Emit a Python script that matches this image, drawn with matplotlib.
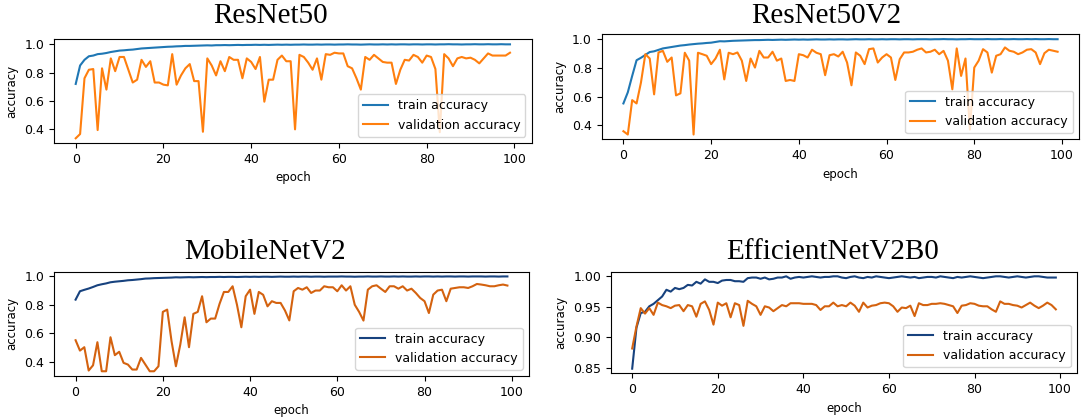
import matplotlib
matplotlib.use('Agg')
import matplotlib.pyplot as plt

# epochs 0..99
epochs = list(range(100))

# ResNet50
r50_train = [0.72, 0.85, 0.89, 0.915, 0.92, 0.93, 0.933, 0.938, 0.945, 0.95,
             0.955, 0.957, 0.96, 0.962, 0.966, 0.97, 0.972, 0.974, 0.976, 0.978,
             0.98, 0.982, 0.983, 0.985, 0.986, 0.988, 0.988, 0.989, 0.99, 0.991,
             0.992, 0.991, 0.993, 0.993, 0.994, 0.993, 0.994, 0.995, 0.994, 0.995,
             0.995, 0.996, 0.995, 0.996, 0.995, 0.996, 0.997, 0.996, 0.997, 0.996,
             0.997, 0.997, 0.998, 0.997, 0.997, 0.998, 0.997, 0.998, 0.998, 0.997,
             0.998, 0.998, 0.999, 0.998, 0.998, 0.997, 0.998, 0.999, 0.998, 0.998,
             0.999, 0.998, 0.999, 0.998, 0.999, 0.999, 0.998, 0.999, 0.999, 0.998,
             0.999, 0.999, 0.998, 0.999, 0.999, 1.0, 0.999, 0.999, 0.998, 0.999,
             0.999, 1.0, 0.999, 0.999, 1.0, 0.999, 0.999, 1.0, 0.999, 0.999]
r50_val = [0.337, 0.367, 0.76, 0.82, 0.825, 0.395, 0.83, 0.68, 0.90, 0.81,
           0.91, 0.91, 0.82, 0.73, 0.75, 0.89, 0.84, 0.88, 0.73, 0.73,
           0.715, 0.71, 0.93, 0.715, 0.78, 0.83, 0.86, 0.74, 0.74, 0.383,
           0.90, 0.85, 0.78, 0.88, 0.81, 0.91, 0.89, 0.89, 0.76, 0.90,
           0.875, 0.825, 0.91, 0.595, 0.75, 0.75, 0.89, 0.92, 0.88, 0.88,
           0.40, 0.925, 0.91, 0.87, 0.82, 0.90, 0.75, 0.93, 0.925, 0.94,
           0.935, 0.935, 0.845, 0.83, 0.76, 0.68, 0.91, 0.89, 0.925, 0.90,
           0.875, 0.87, 0.87, 0.72, 0.82, 0.89, 0.885, 0.925, 0.91, 0.87,
           0.92, 0.91, 0.825, 0.38, 0.93, 0.90, 0.845, 0.90, 0.91, 0.90,
           0.905, 0.89, 0.865, 0.90, 0.935, 0.92, 0.92, 0.92, 0.92, 0.94]

# ResNet50V2
r50v2_train = [0.553, 0.63, 0.744, 0.853, 0.87, 0.89, 0.91, 0.915, 0.925, 0.935,
               0.94, 0.945, 0.95, 0.955, 0.958, 0.962, 0.965, 0.968, 0.97, 0.973,
               0.975, 0.98, 0.985, 0.984, 0.986, 0.988, 0.989, 0.99, 0.991, 0.992,
               0.993, 0.993, 0.994, 0.995, 0.994, 0.995, 0.996, 0.995, 0.996, 0.997,
               0.996, 0.997, 0.996, 0.997, 0.998, 0.997, 0.997, 0.998, 0.997, 0.998,
               0.998, 0.997, 0.998, 0.999, 0.998, 0.998, 0.999, 0.998, 0.998, 0.999,
               0.998, 0.999, 0.999, 0.998, 0.999, 0.999, 0.998, 0.999, 0.999, 0.999,
               0.998, 0.999, 0.999, 1.0, 0.999, 0.999, 0.998, 0.999, 0.999, 1.0,
               0.999, 0.999, 0.999, 1.0, 0.999, 0.999, 1.0, 0.999, 0.999, 1.0,
               0.999, 0.999, 1.0, 0.999, 1.0, 0.999, 0.999, 1.0, 0.999, 0.999]
r50v2_val = [0.36, 0.337, 0.576, 0.553, 0.698, 0.895, 0.865, 0.616, 0.907, 0.918,
             0.842, 0.872, 0.609, 0.623, 0.905, 0.85, 0.337, 0.905, 0.895, 0.884,
             0.826, 0.865, 0.926, 0.72, 0.905, 0.895, 0.907, 0.85, 0.709, 0.865,
             0.802, 0.918, 0.872, 0.872, 0.912, 0.85, 0.865, 0.709, 0.716, 0.709,
             0.895, 0.888, 0.872, 0.926, 0.905, 0.895, 0.749, 0.888, 0.895, 0.879,
             0.912, 0.837, 0.679, 0.907, 0.884, 0.826, 0.93, 0.935, 0.837, 0.872,
             0.895, 0.872, 0.716, 0.86, 0.907, 0.907, 0.912, 0.926, 0.935, 0.907,
             0.912, 0.926, 0.895, 0.918, 0.85, 0.651, 0.935, 0.744, 0.865, 0.372,
             0.802, 0.85, 0.93, 0.907, 0.767, 0.884, 0.895, 0.942, 0.919, 0.912,
             0.895, 0.907, 0.926, 0.93, 0.907, 0.826, 0.902, 0.926, 0.919, 0.912]

# MobileNetV2
mnv2_train = [0.836, 0.895, 0.905, 0.914, 0.925, 0.937, 0.944, 0.95, 0.958, 0.962,
              0.965, 0.968, 0.972, 0.974, 0.977, 0.98, 0.984, 0.985, 0.987, 0.988,
              0.989, 0.99, 0.991, 0.993, 0.992, 0.993, 0.994, 0.993, 0.994, 0.995,
              0.994, 0.995, 0.995, 0.996, 0.995, 0.996, 0.996, 0.995, 0.996, 0.997,
              0.996, 0.997, 0.996, 0.997, 0.997, 0.996, 0.997, 0.998, 0.997, 0.997,
              0.998, 0.997, 0.998, 0.998, 0.997, 0.998, 0.998, 0.997, 0.998, 0.998,
              0.998, 0.999, 0.998, 0.998, 0.997, 0.998, 0.998, 0.999, 0.998, 0.998,
              0.999, 0.998, 0.998, 0.999, 0.998, 0.999, 0.998, 0.998, 0.999, 0.998,
              0.999, 0.999, 0.998, 0.999, 0.998, 0.999, 0.999, 0.998, 0.999, 0.999,
              0.998, 0.999, 0.999, 0.999, 0.998, 0.999, 0.999, 0.998, 0.999, 0.999]
mnv2_val = [0.551, 0.478, 0.502, 0.338, 0.375, 0.537, 0.333, 0.333, 0.572, 0.446,
            0.47, 0.392, 0.38, 0.345, 0.345, 0.427, 0.38, 0.333, 0.333, 0.368,
            0.75, 0.766, 0.544, 0.368, 0.52, 0.712, 0.502, 0.736, 0.75, 0.86,
            0.677, 0.703, 0.703, 0.806, 0.89, 0.89, 0.93, 0.80, 0.642, 0.86,
            0.906, 0.736, 0.89, 0.87, 0.789, 0.825, 0.813, 0.813, 0.76, 0.69,
            0.895, 0.918, 0.906, 0.923, 0.883, 0.90, 0.90, 0.93, 0.923, 0.923,
            0.895, 0.937, 0.90, 0.93, 0.80, 0.75, 0.689, 0.906, 0.93, 0.937,
            0.913, 0.89, 0.93, 0.93, 0.913, 0.93, 0.90, 0.913, 0.883, 0.848,
            0.825, 0.742, 0.871, 0.90, 0.906, 0.825, 0.913, 0.918, 0.923, 0.923,
            0.918, 0.93, 0.946, 0.942, 0.937, 0.93, 0.93, 0.937, 0.942, 0.935]

# EfficientNetV2B0
effb0_train = [0.849, 0.916, 0.94, 0.942, 0.951, 0.955, 0.961, 0.967, 0.978, 0.975,
               0.981, 0.979, 0.981, 0.986, 0.985, 0.991, 0.988, 0.995, 0.991, 0.991,
               0.989, 0.993, 0.994, 0.994, 0.992, 0.992, 0.991, 0.997, 0.998, 0.998,
               0.996, 0.998, 0.995, 0.996, 0.998, 0.998, 1.0, 0.996, 0.998, 0.999,
               0.998, 0.999, 1.0, 0.999, 0.998, 0.999, 0.999, 1.0, 1.0, 0.998,
               0.997, 0.999, 1.0, 0.998, 0.997, 0.999, 0.998, 1.0, 0.999, 0.998,
               0.997, 0.998, 0.999, 1.0, 0.999, 0.998, 0.999, 0.997, 0.998, 0.999,
               0.999, 0.998, 1.0, 0.999, 0.998, 0.997, 0.999, 0.998, 0.999, 1.0,
               0.999, 0.998, 0.997, 0.998, 0.999, 1.0, 1.0, 0.999, 0.998, 0.999,
               1.0, 0.999, 0.998, 0.999, 1.0, 1.0, 0.999, 0.998, 0.998, 0.998]
effb0_val = [0.882, 0.918, 0.948, 0.939, 0.948, 0.937, 0.957, 0.953, 0.951, 0.948,
             0.952, 0.953, 0.943, 0.953, 0.951, 0.934, 0.955, 0.959, 0.945, 0.921,
             0.957, 0.952, 0.956, 0.933, 0.956, 0.953, 0.919, 0.96, 0.955, 0.951,
             0.937, 0.951, 0.949, 0.943, 0.948, 0.953, 0.951, 0.956, 0.956, 0.956,
             0.955, 0.955, 0.955, 0.953, 0.945, 0.951, 0.951, 0.957, 0.951, 0.953,
             0.951, 0.957, 0.952, 0.942, 0.957, 0.949, 0.952, 0.953, 0.956, 0.957,
             0.956, 0.951, 0.942, 0.949, 0.948, 0.952, 0.935, 0.956, 0.953, 0.953,
             0.955, 0.955, 0.956, 0.955, 0.953, 0.951, 0.94, 0.952, 0.953, 0.956,
             0.955, 0.952, 0.951, 0.951, 0.946, 0.942, 0.959, 0.955, 0.955, 0.953,
             0.952, 0.949, 0.953, 0.957, 0.952, 0.948, 0.952, 0.957, 0.953, 0.946]

titles = ['ResNet50', 'ResNet50V2', 'MobileNetV2', 'EfficientNetV2B0']

W, H = 1083, 419
fig = plt.figure(figsize=(W / 100, H / 100), dpi=100)


def rect(l, t, r, b):
    return [l / W, 1 - b / H, (r - l) / W, (b - t) / H]


panels = [
    (rect(54, 39.5, 531.7, 143), r50_train, r50_val, '#1f77b4', '#ff7f0e', (270, 16)),
    (rect(601.7, 34.3, 1079.3, 139.3), r50v2_train, r50v2_val, '#1f77b4', '#ff7f0e', (826, 16)),
    (rect(54, 271.7, 529, 376), mnv2_train, mnv2_val, '#17427e', '#d4620f', (265, 252)),
    (rect(611, 271.7, 1077, 373.3), effb0_train, effb0_val, '#17427e', '#d4620f', (833, 252)),
]

for (pos, tr, va, c1, c2, tpos), title in zip(panels, titles):
    ax = fig.add_axes(pos)
    ax.plot(epochs, tr, color=c1, label='train accuracy')
    ax.plot(epochs, va, color=c2, label='validation accuracy')
    ax.set_xlabel('epoch', fontsize=8.5)
    ax.set_ylabel('accuracy', fontsize=8.5)
    ax.tick_params(labelsize=9)
    ax.legend(loc='lower right', fontsize=9)
    fig.text(tpos[0] / W, 1 - tpos[1] / H, title, family='Liberation Serif',
             fontsize=21, ha='center', va='center')

fig.savefig('out.png', dpi=100)
